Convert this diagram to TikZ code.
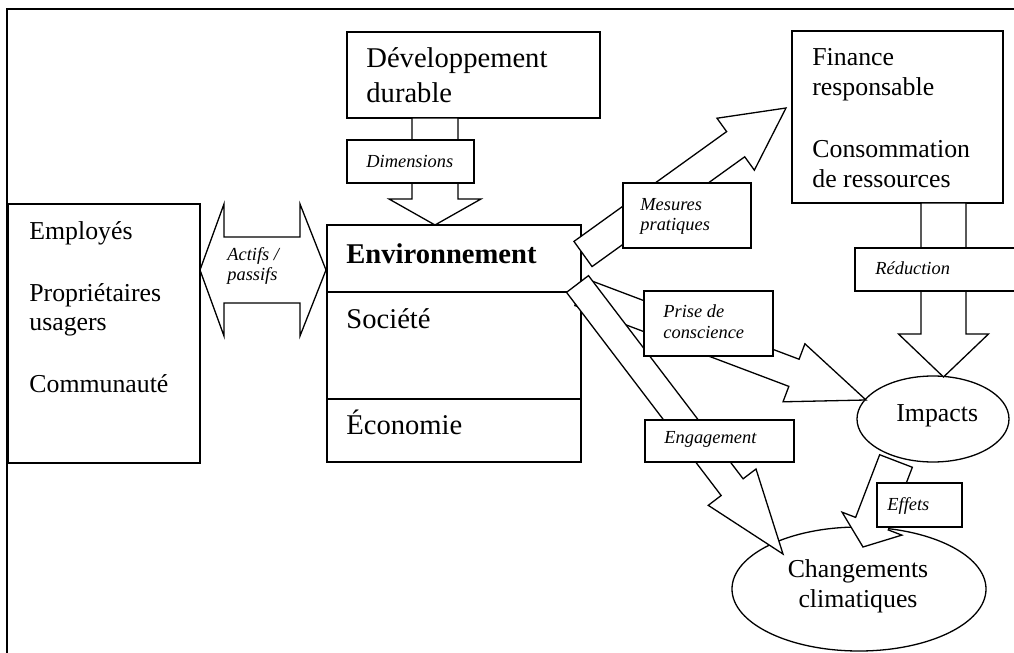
\documentclass[tikz,border=0pt]{standalone}
\usepackage{fontspec}
\setmainfont{Liberation Serif}
\usetikzlibrary{calc,fit,shapes.geometric}

% block arrow: tail, tip, shaft half-width, head half-width, head length
\newcommand{\blockarrow}[5]{%
  \filldraw[arrowbody] let \p1=(#1), \p2=(#2), \p3=($(#2)!#5!(#1)$) in
    ($(\p1)!#3!90:(\p2)$) -- ($(\p3)!#3!90:(\p2)$) -- ($(\p3)!#4!90:(\p2)$)
    -- (\p2) -- ($(\p3)!#4!-90:(\p2)$) -- ($(\p3)!#3!-90:(\p2)$)
    -- ($(\p1)!#3!-90:(\p2)$) -- cycle;}

\begin{document}
\begin{tikzpicture}[
    x=0.5pt, y=-0.5pt,
    box/.style={draw, line width=0.65pt, fill=white, inner sep=0pt},
    arrowbody/.style={draw, fill=white, line width=0.65pt, line join=miter},
    txt/.style={anchor=base west, inner sep=0pt, font=\fontsize{12.9}{15}\selectfont},
    bigtxt/.style={txt, font=\fontsize{14.3}{17}\selectfont},
    tagtxt/.style={txt, font=\fontsize{9.2}{10.5}\selectfont\itshape}
]
    \useasboundingbox (0,0) rectangle (1014,653);
    \draw[line width=0.75pt] (7,653) -- (7,9) -- (1014,9);

    % main boxes
    \node[box, fit={(8,204) (200,463)}] (staff) {};
    \node[box, fit={(347,32) (600,118)}] (dd) {};
    \node[box, fit={(327,225) (581,462)}] (env) {};
    \draw[line width=0.65pt] (env.west |- 0,292) -- (env.east |- 0,292);
    \draw[line width=0.65pt] (env.west |- 0,399) -- (env.east |- 0,399);
    \node[box, fit={(792,31) (1003,203)}] (fin) {};
    \node[box, ellipse, minimum width=76pt, minimum height=43pt] (impacts) at (933,419) {};
    \node[box, ellipse, minimum width=127pt, minimum height=62pt] (climat) at (859,589) {};

    % texts
    \node[txt] (t-emp) at (29,239) {Employés};
    \node[txt] (t-prop) at (29,301) {Propriétaires};
    \node[txt] (t-usa) at (29,330) {usagers};
    \node[txt] (t-com) at (29,392) {Communauté};
    \node[bigtxt] (t-dev) at (366,68) {Développement};
    \node[bigtxt] (t-dur) at (366,102) {durable};
    \node[bigtxt, font=\fontsize{14.3}{17}\selectfont\bfseries] (t-env) at (346,263) {Environnement};
    \node[bigtxt] (t-soc) at (346,328) {Société};
    \node[bigtxt] (t-eco) at (346,434) {Économie};
    \node[txt] (t-fin) at (812,65) {Finance};
    \node[txt] (t-resp) at (812,95) {responsable};
    \node[txt] (t-cons) at (812,157) {Consommation};
    \node[txt] (t-ress) at (812,187) {de ressources};
    \node[txt] (t-imp) at (896,421) {Impacts};
    \node[txt, anchor=base] (t-chg) at (858,577) {Changements};
    \node[txt, anchor=base] (t-clim) at (858,607) {climatiques};

    % block arrows
    \coordinate (dim-a) at (435,118);  \coordinate (dim-b) at (435,225);
    \coordinate (mes-a) at (583,254);  \coordinate (mes-b) at (786,108);
    \coordinate (pri-a) at (580,292);  \coordinate (pri-b) at (866,400);
    \coordinate (eng-a) at (577.5,284); \coordinate (eng-b) at (783,554);
    \coordinate (red-a) at (943.5,203); \coordinate (red-b) at (943.5,377);
    \coordinate (eff-a) at (896,461);  \coordinate (eff-b) at (863,547);
    \coordinate (act-l) at (200,270);  \coordinate (act-r) at (326,270);

    \blockarrow{dim-a}{dim-b}{11.5pt}{23pt}{13pt}
    \filldraw[arrowbody] (act-l) -- ++(24,-66) -- ++(0,33) -- ($(act-r)+(-26,-33)$)
        -- ++(0,-33) -- (act-r) -- ++(-26,66) -- ++(0,-33) -- ($(act-l)+(24,33)$)
        -- ++(0,33) -- cycle;
    \blockarrow{mes-a}{mes-b}{7.75pt}{16pt}{31pt}
    \blockarrow{pri-a}{pri-b}{7.25pt}{15.5pt}{38.5pt}
    \blockarrow{eng-a}{eng-b}{6.9pt}{15pt}{42pt}
    \blockarrow{red-a}{red-b}{11.25pt}{22.5pt}{21.5pt}
    \blockarrow{eff-a}{eff-b}{8.75pt}{16pt}{12.5pt}

    % labels on the arrows
    \node[box, fit={(347,140) (474,183)}] (dim) {};
    \node[tagtxt] (t-dim) at (366,167) {Dimensions};
    \node[tagtxt] (t-act1) at (227,260) {Actifs /};
    \node[tagtxt] (t-act2) at (227,280) {passifs};
    \node[box, fit={(623,183) (751,248)}] (mes) {};
    \node[tagtxt] (t-mes1) at (640,210) {Mesures};
    \node[tagtxt] (t-mes2) at (640,230) {pratiques};
    \node[box, fit={(644,291) (773,356)}] (pri) {};
    \node[tagtxt] (t-pri1) at (663,317) {Prise de};
    \node[tagtxt] (t-pri2) at (663,338) {conscience};
    \node[box, fit={(645,420) (794,462)}] (eng) {};
    \node[tagtxt] (t-eng) at (664,443) {Engagement};
    \node[box, fit={(855,248) (1018,291)}] (red) {};
    \node[tagtxt] (t-red) at (875,274) {Réduction};
    \node[box, fit={(877,483) (962,527)}] (eff) {};
    \node[tagtxt] (t-eff) at (887,510) {Effets};
\end{tikzpicture}
\end{document}
